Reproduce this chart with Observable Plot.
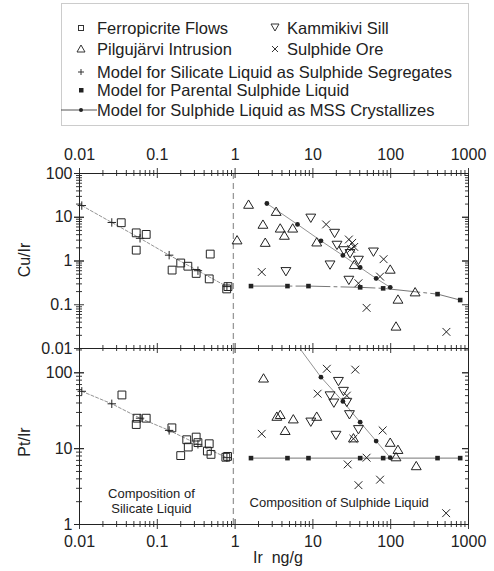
<!DOCTYPE html>
<html><head><meta charset="utf-8">
<script src="https://cdn.jsdelivr.net/npm/d3@7"></script>
<script src="https://cdn.jsdelivr.net/npm/@observablehq/plot@0.6"></script>
<style>
body{margin:0;background:#fff;font-family:"Liberation Sans",Arial,sans-serif;color:#222}
#wrap{position:relative;width:494px;height:571px;overflow:hidden;background:#fff}
.abs{position:absolute}
.lab{position:absolute;font-size:16px;white-space:pre}
</style></head><body><div id="wrap">
<svg class="abs" style="left:0;top:0" width="494" height="130" font-family="Liberation Sans, Arial, sans-serif" font-size="16.5" fill="#222">
<rect x="61.5" y="3.5" width="407" height="122" fill="none" stroke="#999" stroke-dasharray="1,1"/>
<g fill="none" stroke="#333" stroke-width="1">
<rect x="78.5" y="25.5" width="5" height="5"/>
<path d="M275,31 L279,24 L271,24 Z"/>
<path d="M81,45 L85,52 L77,52 Z"/>
<path d="M272,46 L278,52 M272,52 L278,46"/>
<path d="M78,72 L84,72 M81,69 L81,75"/>
<path d="M61,110 L97,110" stroke="#555"/>
</g>
<rect x="79" y="88" width="4.5" height="4.5" fill="#222"/>
<circle cx="81" cy="110" r="2" fill="#222"/>
<text x="97" y="34">Ferropicrite Flows</text>
<text x="287" y="34">Kammikivi Sill</text>
<text x="97" y="55">Pilgujärvi Intrusion</text>
<text x="287" y="55">Sulphide Ore</text>
<text x="97" y="78">Model for Silicate Liquid as Sulphide Segregates</text>
<text x="97" y="96">Model for Parental Sulphide Liquid</text>
<text x="97" y="116">Model for Sulphide Liquid as MSS Crystallizes</text>
</svg>
<div id="top" class="abs" style="left:0;top:127px"></div>
<div id="bot" class="abs" style="left:0;top:336px"></div>
<div class="lab" style="left:25px;top:260px;transform:translate(-50%,-50%) rotate(-90deg)">Cu/Ir</div>
<div class="lab" style="left:25px;top:442px;transform:translate(-50%,-50%) rotate(-90deg)">Pt/Ir</div>
<div class="lab" style="left:253px;top:549px">Ir  ng/g</div>
</div>
<script>
// ---------- data ----------
// Ir (ng/g) vs Cu/Ir
const ferroCuIr = [[0.0344,7.5],[0.0536,4.4],[0.072,4.05],[0.0536,1.77],[0.479,1.44],[0.155,0.62],[0.20,0.90],[0.247,0.76],[0.316,0.52],[0.465,0.39],[0.78,0.23],[0.81,0.26]];
const pilgCuIr = [[1.49,18.9],[3.37,13],[2.28,6.6],[3.8,5.4],[5.5,5.4],[4.3,3.7],[1.06,2.9],[2.44,2.55],[11.2,2.6],[34,0.79],[98.6,0.62],[206,0.188],[124,0.128],[117,0.031]];
const kammCuIr = [[9.4,10],[19,4.5],[20.4,2.4],[16.6,0.85],[4.5,0.6],[29,0.38],[38.5,1.09],[60,1.68],[25,1.8],[30,1.55]];
const oreCuIr = [[14.8,6.85],[2.2,0.56],[81,1.10],[73,0.44],[38.5,0.31],[49,0.085],[520,0.024],[29,3.1],[32,2.6],[34,2.1],[31,1.9]];
// Ir (ng/g) vs Pt/Ir
const ferroPtIr = [[0.0351,51],[0.055,25.2],[0.0536,20.8],[0.072,25.2],[0.154,18.8],[0.239,13.1],[0.25,10.5],[0.316,14.2],[0.333,12.0],[0.465,11.6],[0.44,9.3],[0.49,8.4],[0.20,8.1],[0.80,7.9],[0.76,7.7]];
const pilgPtIr = [[2.32,83],[3.44,26],[3.8,27.4],[5.6,24],[4.4,16.9],[11.2,26],[33.2,13.5],[98.6,11.8],[124,9.5],[117,7.6],[213,5.8]];
const kammPtIr = [[21.3,79],[16.6,51],[18.6,41],[24.7,58.5],[27.3,41.9],[29.5,28.8],[38.5,18.3],[9.4,23],[19.8,15.4]];
const orePtIr = [[15.1,113],[11.5,53],[35,110],[27.3,50],[2.2,15.7],[33.2,13.5],[78.8,17.4],[49,7.6],[28,6.2],[38.5,3.3],[73,3.9],[516,1.41]];
// models
const silIr = [0.0107,0.026,0.060,0.142,0.333,0.785];
const silCu = [18.5,7.6,3.3,1.36,0.60,0.26];
const silPt = [57,39,25.2,17.4,11.4,7.6];
const parIr = [1.6,4.71,8.77,40.5,80,400,782];
const parCu = [0.267,0.267,0.267,0.25,0.237,0.175,0.128];
const parPt = [7.5,7.5,7.5,7.5,7.5,7.5,7.5];
const mssIr = [2.56,6.34,12.7,24.3,40.5,65,98.6];
const mssCu = [20.6,6.85,2.89,1.34,0.71,0.40,0.25];
const mssPt = [null,230,87.5,41.9,22.3,12.6,7.6];
const dividerIr = 0.95;
const xLabels = [0.01,0.1,1,10,100,1000];
const cuLabels = [0.01,0.1,1,10,100];
const ptLabels = [1,10,100];

// ---------- helpers ----------
const pts = a => a.map(([x,y]) => ({x,y}));
const zipM = (xs, ys) => xs.map((x,i) => ({x, y: ys[i]})).filter(d => d.y != null);
const logMinor = (lo, hi) => d3.range(Math.floor(Math.log10(lo)), Math.ceil(Math.log10(hi)))
  .flatMap(e => d3.range(2,10).map(m => +(m*10**e).toPrecision(3)))
  .filter(v => v > lo && v < hi);
const sym = {
  square: {draw(c,s){const r=Math.sqrt(s/Math.PI)*0.85;c.rect(-r,-r,2*r,2*r);}},
  triUp: {draw(c,s){const r=Math.sqrt(s/Math.PI);c.moveTo(0,-r);c.lineTo(r*0.95,r*0.6);c.lineTo(-r*0.95,r*0.6);c.closePath();}},
  triDown: {draw(c,s){const r=Math.sqrt(s/Math.PI);c.moveTo(0,r);c.lineTo(r*0.95,-r*0.6);c.lineTo(-r*0.95,-r*0.6);c.closePath();}},
  times: {draw(c,s){const r=Math.sqrt(s/Math.PI)*0.75;c.moveTo(-r,-r);c.lineTo(r,r);c.moveTo(-r,r);c.lineTo(r,-r);}},
  plus: {draw(c,s){const r=Math.sqrt(s/Math.PI);c.moveTo(-r,0);c.lineTo(r,0);c.moveTo(0,-r);c.lineTo(0,r);}}
};
const ink = "#222";
const X0 = 0.01, X1 = 1000;
const xMinor = logMinor(X0, X1);

function axisTicks(yDom, drawTop, drawBottom) {
  const [y0, y1] = yDom;
  const yMaj = cuLabels.concat(ptLabels).filter(v => v >= y0 && v <= y1);
  const yMin = logMinor(y0, y1);
  const marks = [];
  const xr = (vals, yv, len) => Plot.ruleX(vals, {x: d => d, y1: () => yv, y2: () => yv, insetTop: -len, insetBottom: -len, stroke: ink, strokeWidth: 0.9});
  if (drawTop) { marks.push(xr(xLabels, y1, 5), xr(xMinor, y1, 3)); }
  if (drawBottom) { marks.push(xr(xLabels, y0, 5), xr(xMinor, y0, 3)); }
  const yl = (vals, len) => Plot.ruleY(vals, {y: d => d, x1: () => X0, x2: () => X0, insetLeft: -len, insetRight: -len, stroke: ink, strokeWidth: 0.9});
  const yr = (vals, len) => Plot.ruleY(vals, {y: d => d, x1: () => X1, x2: () => X1, insetLeft: -0, insetRight: len, stroke: ink, strokeWidth: 0.9});
  marks.push(yl(yMaj, 5), yl(yMin, 3), yr(yMaj, 6), yr(yMin, 3));
  return marks;
}
function dataMarks(ferro, pilg, kamm, ore) {
  const o = {x: "x", y: "y", fill: "none", stroke: ink, strokeWidth: 1};
  return [
    Plot.dot(pts(ferro), {...o, symbol: sym.square, r: 4.6}),
    Plot.dot(pts(pilg), {...o, symbol: sym.triUp, r: 5.2}),
    Plot.dot(pts(kamm), {...o, symbol: sym.triDown, r: 5.2}),
    Plot.dot(pts(ore), {...o, symbol: sym.times, r: 5.2})
  ];
}
function modelMarks(silY, parY, mssY, parDash) {
  const s = zipM(silIr, silY), p = zipM(parIr, parY), m = zipM(mssIr, mssY);
  return [
    Plot.line(s, {x: "x", y: "y", stroke: "#777", strokeWidth: 0.8, strokeDasharray: "3,2"}),
    Plot.dot(s, {x: "x", y: "y", symbol: sym.plus, r: 4.2, stroke: ink, fill: "none", strokeWidth: 1}),
    Plot.line(p, {x: "x", y: "y", stroke: "#666", strokeWidth: 0.9, strokeDasharray: parDash}),
    Plot.dot(p, {x: "x", y: "y", symbol: sym.square, r: 2.7, fill: ink, stroke: "none"}),
    Plot.line(m, {x: "x", y: "y", stroke: "#777", strokeWidth: 0.8, clip: true}),
    Plot.dot(m, {x: "x", y: "y", r: 2.4, fill: ink, stroke: "none", clip: true})
  ];
}
const style = {background: "transparent", overflow: "visible", fontSize: "16px", fontFamily: "Liberation Sans, Arial, sans-serif", color: ink};
const fmt = d => String(d);

// ---------- top panel: Cu/Ir ----------
const cuDom = [0.01, 100];
const topPlot = Plot.plot({
  width: 494, height: 233, marginLeft: 79, marginRight: 26, marginTop: 46, marginBottom: 12,
  style,
  x: {type: "log", domain: [X0, X1], axis: "top", ticks: xLabels, tickFormat: fmt, tickSize: 0, tickPadding: 14, label: null},
  y: {type: "log", domain: cuDom, ticks: cuLabels, tickFormat: fmt, tickSize: 0, tickPadding: 7, label: null},
  marks: [
    Plot.ruleX([dividerIr], {x: d => d, stroke: "#999", strokeWidth: 1.3, strokeDasharray: "6,4"}),
    ...modelMarks(silCu, parCu, mssCu, "34,4,3,4"),
    ...dataMarks(ferroCuIr, pilgCuIr, kammCuIr, oreCuIr),
    Plot.frame({stroke: ink, strokeWidth: 1}),
    ...axisTicks(cuDom, true, true)
  ]
});
document.getElementById("top").append(topPlot);

// ---------- bottom panel: Pt/Ir ----------
const ptDom = [1, 209];
const botPlot = Plot.plot({
  width: 494, height: 235, marginLeft: 79, marginRight: 26, marginTop: 12, marginBottom: 47,
  style,
  x: {type: "log", domain: [X0, X1], axis: "bottom", ticks: xLabels, tickFormat: fmt, tickSize: 0, tickPadding: 11, label: null},
  y: {type: "log", domain: ptDom, ticks: ptLabels, tickFormat: fmt, tickSize: 0, tickPadding: 7, label: null},
  marks: [
    Plot.ruleX([dividerIr], {x: d => d, stroke: "#999", strokeWidth: 1.3, strokeDasharray: "6,4"}),
    ...modelMarks(silPt, parPt, mssPt, null),
    ...dataMarks(ferroPtIr, pilgPtIr, kammPtIr, orePtIr),
    Plot.text(["Composition of", "Silicate Liquid"], {x: () => 0.084, y: (d, i) => i ? 1.63 : 2.55, text: d => d, fontSize: 13, fill: ink}),
    Plot.text(["Composition of Sulphide Liquid"], {x: () => 21.8, y: () => 1.93, text: d => d, fontSize: 13, fill: ink}),
    Plot.frame({stroke: ink, strokeWidth: 1}),
    ...axisTicks(ptDom, false, true)
  ]
});
document.getElementById("bot").append(botPlot);
</script>
</body></html>
